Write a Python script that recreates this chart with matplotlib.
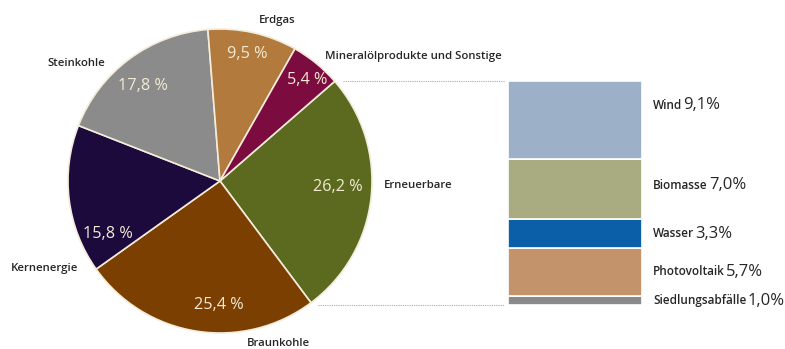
import matplotlib.pyplot as plt
import numpy as np

# Data
sources = ['Erneuerbare', 'Braunkohle', 'Kernenergie', 'Steinkohle', 'Erdgas',
           'Mineralölprodukte und Sonstige']
shares = [26.2, 25.4, 15.8, 17.8, 9.5, 5.4]
pct_labels = ['26,2 %', '25,4 %', '15,8 %', '17,8 %', '9,5 %', '5,4 %']
pie_colors = ['#5b6a1f', '#7b3f02', '#1c0a3d', '#8b8b8b', '#b27a3c', '#7c0b40']

renew_names = ['Siedlungsabfälle', 'Photovoltaik', 'Wasser', 'Biomasse', 'Wind']
renew_values = [1.0, 5.7, 3.3, 7.0, 9.1]
renew_labels = ['1,0%', '5,7%', '3,3%', '7,0%', '9,1%']
renew_colors = ['#8a8a8a', '#c3936b', '#0b5fa8', '#a9ac81', '#9cb0c8']

# Layout (pixel coordinates, y measured from top)
W, H = 785, 349
CX, CY, R = 220, 181, 152
cat_pos = [(418, 185), (278, 343), (45, 268), (76, 63), (277, 20), (325, 56)]
cat_ha = ['center', 'center', 'center', 'center', 'center', 'left']
pct_pos = [(338, 187), (219, 305), (108, 234), (143, 86), (247, 54), (307, 80)]
BAR_X0, BAR_X1, BAR_BOTTOM = 508, 642, 305
PX_PER_PCT = 8.58
label_dy = [0, 0, 0, -4, -15]

FONT = 'Open Sans'
TEXT = '#262626'

fig = plt.figure(figsize=(W / 100, H / 100), dpi=100)
ax = fig.add_axes([0, 0, 1, 1])

ax.pie(shares, colors=pie_colors, startangle=41, counterclock=False,
       center=(CX, H - CY), radius=R,
       wedgeprops=dict(edgecolor='#f4ecda', linewidth=1.2))

for name, (x, y), ha in zip(sources, cat_pos, cat_ha):
    ax.text(x, H - y, name, ha=ha, va='center', fontsize=8.2,
            fontweight='semibold', color=TEXT, family=FONT)

for lab, (x, y) in zip(pct_labels, pct_pos):
    ax.text(x, H - y, lab, ha='center', va='center', fontsize=11.7,
            fontweight='medium', color='#f3ead3', family=FONT)

# stacked bar for the renewables
bottom = H - BAR_BOTTOM
for name, v, lab, c, dy in zip(renew_names, renew_values, renew_labels,
                               renew_colors, label_dy):
    h = v * PX_PER_PCT
    ax.bar((BAR_X0 + BAR_X1) / 2, h, width=BAR_X1 - BAR_X0, bottom=bottom,
           color=c, edgecolor='white', linewidth=1.2)
    ymid = bottom + h / 2 - dy
    t = ax.text(653, ymid, name, ha='left', va='center', fontsize=8.5,
                fontweight='semibold', color=TEXT, family=FONT)
    ax.annotate(lab, xy=(1, 0), xycoords=t, xytext=(0.9, -1.3),
                textcoords='offset points', ha='left', va='bottom',
                fontsize=12, color=TEXT, family=FONT)
    bottom += h

# dotted connector lines
ax.plot([343, 504], [H - 81, H - 81], ls=(0, (1, 1)), color='#aaaaaa', lw=0.8)
ax.plot([318, 504], [H - 305, H - 305], ls=(0, (1, 1)), color='#aaaaaa', lw=0.8)

ax.set_xlim(0, W)
ax.set_ylim(0, H)
ax.set_aspect('equal')
ax.axis('off')

fig.savefig('out.png', dpi=100)
